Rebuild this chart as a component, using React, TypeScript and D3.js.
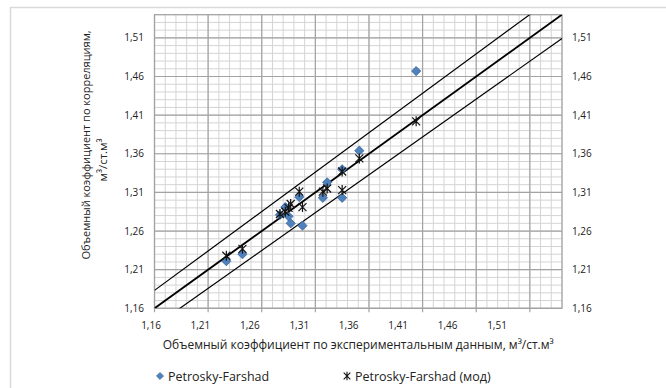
import { useEffect, useRef } from "react";
import * as d3 from "d3";

// experimental formation volume factor (x) for each sample
const sampleX = [1.227, 1.242, 1.277, 1.282, 1.285, 1.287, 1.295, 1.298, 1.317, 1.321, 1.335, 1.335, 1.351, 1.404];
// Petrosky-Farshad correlation
const pfValues = [1.221, 1.230, 1.281, 1.291, 1.279, 1.270, 1.304, 1.267, 1.303, 1.323, 1.340, 1.303, 1.364, 1.467];
// Petrosky-Farshad (мод)
const pfModValues = [1.228, 1.237, 1.282, 1.285, 1.290, 1.295, 1.311, 1.291, 1.311, 1.315, 1.337, 1.313, 1.354, 1.402];

const tickValues = [1.16, 1.21, 1.26, 1.31, 1.36, 1.41, 1.46, 1.51];
const bandFactors = [0.98, 1, 1.02];
const legendLabels = ["Petrosky-Farshad", "Petrosky-Farshad (мод)"];

const W = 666;
const H = 388;

const diamondPath = (r: number) => `M0,${-r}L${r},0L0,${r}L${-r},0Z`;
const starPath = (r: number) => `M${-r},${-r}L${r},${r}M${-r},${r}L${r},${-r}M0,${-r - 1}L0,${r + 1}`;

const App = () => {
  const svgRef = useRef<SVGSVGElement>(null);

  useEffect(() => {
    const svg = d3.select(svgRef.current);
    svg.selectAll("*").remove();

    const left = 154.5, right = 562, top = 14.7, bottom = 308.3;
    const x = d3.scaleLinear().domain([1.16, 1.54]).range([left, right]);
    const y = d3.scaleLinear().domain([1.16, 1.54]).range([bottom, top]);
    // the x tick labels in the reference sit on a slightly compressed row
    const xLabel = d3.scaleLinear().domain([1.16, 1.51]).range([151, 497]);
    const fmt = (d: number) => d3.format(".2f")(d).replace(".", ",");
    const font = "'Open Sans', sans-serif";

    svg.append("rect").attr("width", W).attr("height", H).attr("fill", "#fff");

    // outer frame
    svg.append("line").attr("x1", 10).attr("x2", W).attr("y1", 7.5).attr("y2", 7.5)
      .attr("stroke", "#d9d9d9").attr("stroke-width", 1.5);
    svg.append("line").attr("x1", 10.5).attr("x2", 10.5).attr("y1", 7).attr("y2", H)
      .attr("stroke", "#d9d9d9").attr("stroke-width", 1.5);

    const g = svg.append("g");

    // minor grid
    const minor = x.ticks(38);
    g.selectAll(".vmin").data(minor).enter().append("line")
      .attr("x1", (d) => x(d)).attr("x2", (d) => x(d)).attr("y1", top).attr("y2", bottom)
      .attr("stroke", "#d4d4d4").attr("stroke-width", 1);
    g.selectAll(".hmin").data(minor).enter().append("line")
      .attr("y1", (d) => y(d)).attr("y2", (d) => y(d)).attr("x1", left).attr("x2", right)
      .attr("stroke", "#d4d4d4").attr("stroke-width", 1);

    // major grid
    g.selectAll(".vmaj").data(tickValues).enter().append("line")
      .attr("x1", (d) => x(d)).attr("x2", (d) => x(d)).attr("y1", top).attr("y2", bottom + 4)
      .attr("stroke", "#a3a3a3").attr("stroke-width", 1.2);
    g.selectAll(".hmaj").data(tickValues).enter().append("line")
      .attr("y1", (d) => y(d)).attr("y2", (d) => y(d)).attr("x1", left).attr("x2", right)
      .attr("stroke", "#a3a3a3").attr("stroke-width", 1.2);

    g.append("rect").attr("x", left).attr("y", top).attr("width", right - left).attr("height", bottom - top)
      .attr("fill", "none").attr("stroke", "#a3a3a3").attr("stroke-width", 1.2);

    // ±2% band lines
    svg.append("clipPath").attr("id", "plotclip").append("rect")
      .attr("x", left).attr("y", top).attr("width", right - left).attr("height", bottom - top);
    const line = d3.line<number>().x((d) => x(d));
    bandFactors.forEach((k) => {
      g.append("path")
        .datum([1.16, 1.54])
        .attr("clip-path", "url(#plotclip)")
        .attr("fill", "none")
        .attr("stroke", "#000")
        .attr("stroke-width", k === 1 ? 1.9 : 1.2)
        .attr("d", line.y((d) => y(d * k)));
    });

    // tick labels
    const tickStyle = (s: any) => s.attr("font-family", font).attr("font-size", 10).attr("fill", "#222");
    g.selectAll(".yl").data(tickValues).enter().append("text")
      .attr("x", 144).attr("y", (d) => y(d) + 3.5).attr("text-anchor", "end").call(tickStyle).text(fmt);
    g.selectAll(".yr").data(tickValues).enter().append("text")
      .attr("x", 572).attr("y", (d) => y(d) + 3.5).attr("text-anchor", "start").call(tickStyle).text(fmt);
    g.selectAll(".xl").data(tickValues).enter().append("text")
      .attr("x", (d) => xLabel(d)).attr("y", 329).attr("text-anchor", "middle").call(tickStyle).text(fmt);

    // points
    g.selectAll(".pf").data(sampleX).enter().append("path")
      .attr("transform", (d, i) => `translate(${x(d)},${y(pfValues[i])})`)
      .attr("d", diamondPath(4.6)).attr("fill", "#4f81bd").attr("stroke", "#3a659b").attr("stroke-width", 0.8);
    g.selectAll(".pfm").data(sampleX).enter().append("path")
      .attr("transform", (d, i) => `translate(${x(d)},${y(pfModValues[i])})`)
      .attr("d", starPath(4)).attr("fill", "none").attr("stroke", "#111").attr("stroke-width", 1.2);

    // axis titles
    const titleStyle = (s: any) => s.attr("font-family", font).attr("font-size", 12).attr("fill", "#222");
    svg.append("text").attr("x", (left + right) / 2).attr("y", 349).attr("text-anchor", "middle")
      .call(titleStyle).text("Объемный коэффициент по экспериментальным данным, м³/ст.м³");
    svg.append("text").attr("transform", "translate(90,145) rotate(-90)").attr("text-anchor", "middle")
      .call(titleStyle).attr("font-size", 11).text("Объемный коэффициент по корреляциям,");
    svg.append("text").attr("transform", "translate(107,160) rotate(-90)").attr("text-anchor", "middle")
      .call(titleStyle).attr("font-size", 11.5).text("м³/ст.м³");

    // legend
    const legendX = [160, 347];
    legendX.forEach((lx, i) => {
      const m = svg.append("path").attr("transform", `translate(${lx},376)`);
      if (i === 0) m.attr("d", diamondPath(3.6)).attr("fill", "#4f81bd").attr("stroke", "#3a659b").attr("stroke-width", 0.6);
      else m.attr("d", starPath(3.3)).attr("fill", "none").attr("stroke", "#111").attr("stroke-width", 1.1);
      svg.append("text").attr("x", lx + 8).attr("y", 380.5).call(titleStyle).attr("font-size", 12.5)
        .text(legendLabels[i]);
    });
  }, []);

  return <svg ref={svgRef} width={W} height={H} style={{ position: "absolute", left: 0, top: 0 }} />;
};

export default App;
